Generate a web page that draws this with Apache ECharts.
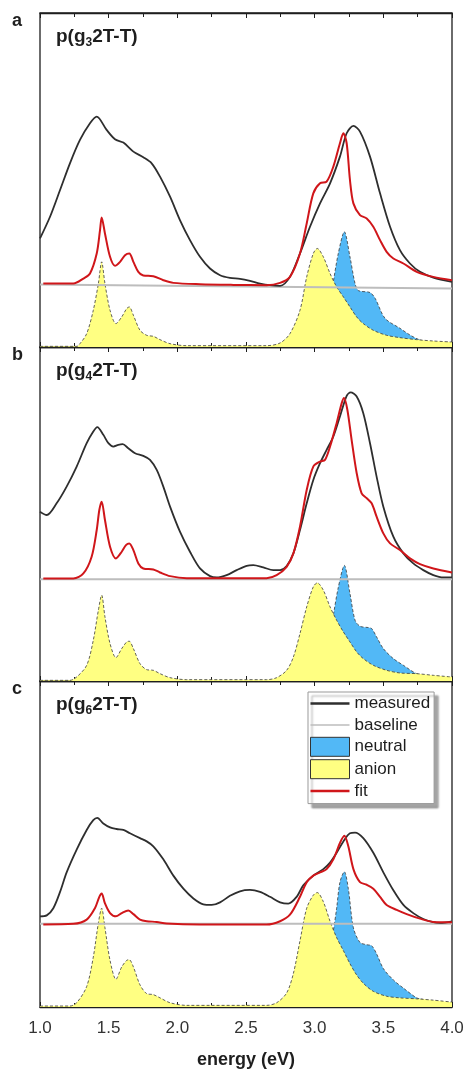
<!DOCTYPE html>
<html>
<head>
<meta charset="utf-8">
<script src="https://cdn.jsdelivr.net/npm/echarts@6/dist/echarts.min.js"></script>
<style>
  html, body { margin: 0; padding: 0; background: #fff; }
  #chart { width: 467px; height: 1070px; }
</style>
</head>
<body>
<div id="chart"></div>
<script>
// Offset absorption spectra of three polymers: measured spectrum and fit sit on a
// baseline, the anion / neutral components are drawn from zero underneath.
// All values are [energy (eV), intensity (arb. units, 0..100 per panel)].

const panelLetters = ['a', 'b', 'c'];
const panelTitles = ['p(g{s|3}2T-T)', 'p(g{s|4}2T-T)', 'p(g{s|6}2T-T)'];
const seriesNames = ['measured', 'baseline', 'neutral', 'anion', 'fit'];

// ---- panel a: p(g3 2T-T) ----
const measuredA = [[1.000,32.5],[1.073,39],[1.146,47],[1.218,55],[1.291,62],[1.364,67],[1.413,69],[1.485,65],[1.546,62.2],[1.607,61.2],[1.680,58.5],[1.752,56.8],[1.813,55],[1.874,51],[1.947,45],[2.019,38],[2.092,32],[2.165,27],[2.238,23.5],[2.311,21.5],[2.383,20.7],[2.456,20.4],[2.529,19.8],[2.602,19],[2.675,18.5],[2.748,18.3],[2.820,21],[2.893,28],[2.966,36],[3.039,43],[3.112,49],[3.184,57],[3.233,64],[3.282,66.2],[3.330,64.5],[3.403,57],[3.476,46],[3.549,36],[3.621,29],[3.694,25],[3.767,22.5],[3.864,20.8],[4.000,19.5]];
const fitA = [[1.024,19],[1.243,19],[1.316,20.5],[1.364,22],[1.413,28],[1.437,35],[1.449,38.8],[1.473,34],[1.510,27],[1.546,24.3],[1.583,25.5],[1.619,27.5],[1.650,28],[1.680,25.5],[1.716,22.5],[1.752,21.4],[1.825,21.2],[1.898,20],[1.971,19.2],[2.165,18.8],[2.408,18.6],[2.650,18.5],[2.748,19.2],[2.820,21],[2.893,28],[2.942,37],[2.990,46],[3.039,49],[3.087,49.5],[3.136,54],[3.184,61],[3.209,64],[3.233,61],[3.257,50],[3.282,43],[3.330,39.5],[3.379,38.5],[3.427,36],[3.476,32],[3.524,28.5],[3.573,26.5],[3.646,25],[3.743,22.5],[3.864,21],[4.000,20]];
const anionA = [[1.000,0.2],[1.267,0.2],[1.291,1.0],[1.340,4.0],[1.388,11],[1.425,19],[1.449,25.5],[1.473,19],[1.510,11],[1.553,7],[1.595,9],[1.631,11.5],[1.650,12],[1.680,9.5],[1.728,5],[1.777,3.5],[1.825,3.2],[1.874,2.2],[1.947,1],[2.068,0.4],[2.650,0.4],[2.748,1.2],[2.820,4],[2.893,11],[2.942,21],[2.990,28],[3.019,29.5],[3.063,27],[3.112,22],[3.160,18],[3.209,15],[3.257,12],[3.306,9],[3.354,7],[3.427,5],[3.524,3.5],[3.621,2.8],[3.743,2.2],[3.864,1.8],[4.000,1.5]];
const neutralA = [[3.000,0],[3.050,3],[3.100,10],[3.136,19.5],[3.172,28],[3.216,34.5],[3.257,27],[3.294,19],[3.318,16.9],[3.403,16.3],[3.440,14.6],[3.512,8.6],[3.621,5.6],[3.694,3.6],[3.755,2.3],[3.864,1.0],[4.000,0.4]];
const baselineA = [[1.0,18.7],[4.0,17.5]];

// ---- panel b: p(g4 2T-T) ----
const measuredB = [[1.000,50.7],[1.049,49.7],[1.121,53.2],[1.194,58.2],[1.267,64.2],[1.340,71.2],[1.388,74.7],[1.417,76],[1.461,73.7],[1.498,71.2],[1.534,70.2],[1.570,70.7],[1.602,70.9],[1.643,69.7],[1.692,68.2],[1.752,67.4],[1.801,66.2],[1.850,63.2],[1.898,58.2],[1.947,52.2],[2.019,44.7],[2.092,38.7],[2.165,33.7],[2.238,31.4],[2.286,31.0],[2.359,31.7],[2.432,33.2],[2.505,34.5],[2.553,34.7],[2.626,34.0],[2.699,33.2],[2.748,33.2],[2.796,34.4],[2.845,38.2],[2.893,45.2],[2.942,53.2],[2.990,60.2],[3.039,65.2],[3.087,69.2],[3.136,73.2],[3.184,79.2],[3.233,85.4],[3.262,86.4],[3.306,85.2],[3.354,80.2],[3.403,71.2],[3.451,61.2],[3.500,52.2],[3.573,43.2],[3.646,38.2],[3.718,35.2],[3.791,33.2],[3.864,31.7],[3.937,31.0],[4.000,31.0]];
const fitB = [[1.024,30.7],[1.243,30.7],[1.316,32.2],[1.376,37.2],[1.413,45.2],[1.432,51.2],[1.449,53.7],[1.473,48.2],[1.510,40.2],[1.553,36.7],[1.595,38.7],[1.626,40.7],[1.650,41.2],[1.680,39.2],[1.716,35.2],[1.752,33.7],[1.825,33.4],[1.874,32.5],[1.947,31.4],[2.068,30.8],[2.650,30.8],[2.723,31.7],[2.796,34.2],[2.845,38.2],[2.893,46.2],[2.942,57.2],[2.990,64.2],[3.039,65.7],[3.075,66.2],[3.112,70.2],[3.160,77.2],[3.197,83.2],[3.214,84.7],[3.238,81.2],[3.269,72.2],[3.306,62.2],[3.342,56.2],[3.379,54.7],[3.415,53.2],[3.451,49.2],[3.500,44.2],[3.549,41.2],[3.621,39.2],[3.694,36.7],[3.767,35.0],[3.864,33.7],[4.000,32.5]];
const anionB = [[1.000,0.2],[1.218,0.2],[1.267,1.2],[1.340,4.7],[1.388,12.2],[1.425,21.2],[1.449,25.7],[1.473,19.2],[1.510,11.2],[1.553,7.0],[1.595,9.7],[1.631,11.7],[1.650,11.9],[1.680,9.7],[1.728,5.2],[1.777,3.4],[1.825,3.2],[1.874,2.2],[1.947,1.0],[2.068,0.4],[2.650,0.4],[2.723,1.0],[2.796,3.2],[2.845,7.2],[2.893,14.2],[2.942,22.2],[2.990,28.2],[3.019,29.4],[3.063,27.2],[3.112,22.2],[3.160,18.2],[3.209,14.7],[3.257,11.7],[3.306,8.7],[3.354,6.7],[3.427,4.7],[3.524,3.2],[3.621,2.4],[3.743,2.2],[3.864,1.7],[4.000,1.2]];
const neutralB = [[3.000,0],[3.050,3],[3.100,11],[3.136,19.7],[3.172,28],[3.216,34.6],[3.257,26.2],[3.294,18.2],[3.330,16.4],[3.391,16.0],[3.415,15.7],[3.451,13.2],[3.500,9.7],[3.573,6.7],[3.646,4.7],[3.743,2.2],[3.864,1.0],[4.000,0.4]];
const baselineB = [[1.0,30.5],[4.0,30.5]];

// ---- panel c: p(g6 2T-T) ----
const measuredC = [[1.000,27.8],[1.049,28.1],[1.097,30.3],[1.146,35.3],[1.194,41.3],[1.267,48.3],[1.340,54.3],[1.388,57.3],[1.417,58.0],[1.461,56.3],[1.510,55.1],[1.558,54.6],[1.607,54.3],[1.655,53.3],[1.728,51.8],[1.777,50.8],[1.825,49.3],[1.898,45.3],[1.971,40.3],[2.044,36.3],[2.117,33.3],[2.189,31.5],[2.250,31.3],[2.311,32.1],[2.383,34.1],[2.456,35.5],[2.529,35.9],[2.602,35.3],[2.675,33.8],[2.748,32.1],[2.808,31.7],[2.869,33.8],[2.917,37.3],[2.990,40.3],[3.063,42.3],[3.112,44.3],[3.160,47.3],[3.209,50.8],[3.257,53.3],[3.294,53.5],[3.354,51.8],[3.427,47.3],[3.500,41.3],[3.573,35.8],[3.646,31.3],[3.718,28.8],[3.791,27.0],[3.864,26.0],[3.913,25.8],[4.000,26.3]];
const fitC = [[1.024,25.3],[1.243,25.5],[1.340,26.8],[1.400,30.3],[1.432,33.8],[1.449,34.8],[1.473,31.8],[1.510,28.8],[1.553,27.8],[1.595,28.8],[1.643,29.6],[1.680,28.5],[1.728,26.8],[1.777,26.3],[1.850,26.1],[1.922,25.6],[2.165,25.3],[2.650,25.3],[2.748,26.3],[2.820,28.3],[2.893,33.8],[2.942,38.3],[2.990,40.3],[3.039,41.3],[3.087,42.3],[3.136,45.3],[3.184,50.3],[3.216,52.5],[3.245,49.3],[3.282,42.3],[3.330,38.3],[3.379,37.5],[3.427,36.3],[3.476,33.8],[3.524,31.3],[3.597,29.8],[3.670,28.5],[3.767,27.1],[3.864,26.1],[4.000,26.0]];
const anionC = [[1.000,0.3],[1.218,0.3],[1.267,1.3],[1.340,6.3],[1.388,15.3],[1.425,25.8],[1.449,30.3],[1.473,24.3],[1.510,14.3],[1.553,8.5],[1.595,12.3],[1.631,14.3],[1.650,14.5],[1.680,12.3],[1.728,6.8],[1.777,4.1],[1.825,3.8],[1.874,2.8],[1.947,1.3],[2.068,0.5],[2.650,0.5],[2.723,1.3],[2.796,4.3],[2.845,10.3],[2.893,20.3],[2.942,30.3],[2.990,34.3],[3.019,35.1],[3.063,32.3],[3.112,26.3],[3.160,21.3],[3.209,17.3],[3.257,13.3],[3.306,9.8],[3.354,7.3],[3.427,4.8],[3.524,3.3],[3.621,2.8],[3.743,2.5],[3.864,2.1],[4.000,1.5]];
const neutralC = [[3.000,0],[3.050,4],[3.100,14],[3.136,23.3],[3.160,30.3],[3.184,38.3],[3.216,41.5],[3.245,36.3],[3.282,24.3],[3.330,19.8],[3.379,19.1],[3.415,18.8],[3.451,16.3],[3.500,11.8],[3.573,8.3],[3.646,5.8],[3.743,2.8],[3.791,2.3],[3.864,1.0],[4.000,0.4]];
const baselineC = [[1.0,25.5],[4.0,25.5]];

const panels = [
  { measured: measuredA, fit: fitA, anion: anionA, neutral: neutralA, baseline: baselineA },
  { measured: measuredB, fit: fitB, anion: anionB, neutral: neutralB, baseline: baselineB },
  { measured: measuredC, fit: fitC, anion: anionC, neutral: neutralC, baseline: baselineC }
];

// ---- styling / layout ----
const FONT = '"Liberation Sans", Arial, Helvetica, sans-serif';
const INK = '#1e1e1e';
const C_MEASURED = '#2e2e2e';
const C_BASELINE = '#bdbdbd';
const C_NEUTRAL = '#52b8f6';
const C_ANION = '#ffff82';
const C_FIT = '#d0161a';
const gridTop = [13, 347, 681];
const gridHeight = [334, 334, 333];
const LEG_W = 39, LEG_H = 19;

// Legend glyph for line entries: a short horizontal bar; the zero-length
// moves at the corners fix the glyph's box to the legend item size.
function barIcon(thickness) {
  const y0 = (LEG_H - thickness) / 2, y1 = y0 + thickness;
  return 'path://M0,0L0,0M0,' + y0 + 'L' + LEG_W + ',' + y0 + 'L' + LEG_W + ',' + y1 +
    'L0,' + y1 + 'ZM' + LEG_W + ',' + LEG_H + 'L' + LEG_W + ',' + LEG_H;
}

const grids = [], xAxes = [], yAxes = [], series = [], titles = [];

function xAxis(i, position, labels) {
  return {
    gridIndex: i, type: 'value', position: position, min: 1, max: 4, interval: 0.5,
    axisLine: { show: true, onZero: false, lineStyle: { color: INK, width: 1.3 } },
    axisTick: { show: true, inside: true, length: 5, lineStyle: { color: INK, width: 1 } },
    minorTick: { show: true, splitNumber: 2, length: 4, lineStyle: { color: INK, width: 1 } },
    splitLine: { show: false },
    axisLabel: {
      show: labels, color: '#333', fontSize: 17, fontFamily: FONT, margin: 13,
      formatter: v => v.toFixed(1)
    },
    name: labels ? 'energy (eV)' : '',
    nameLocation: 'middle', nameGap: 44,
    nameTextStyle: { fontSize: 18, fontWeight: 'bold', color: INK, fontFamily: FONT }
  };
}

function areaSeries(name, data, i, fill, z) {
  return {
    name, type: 'line', xAxisIndex: i * 2, yAxisIndex: i, data, z,
    smooth: 0.3, symbol: 'none', silent: true,
    lineStyle: { color: '#3a3a3a', width: 0.8, type: [3, 2] },
    itemStyle: { color: fill },
    areaStyle: { color: fill, opacity: 1 }
  };
}

function lineSeries(name, data, i, color, width, smooth, z) {
  return {
    name, type: 'line', xAxisIndex: i * 2, yAxisIndex: i, data, z,
    smooth: smooth, symbol: 'none', silent: true,
    lineStyle: { color, width },
    itemStyle: { color }
  };
}

panels.forEach((p, i) => {
  grids.push({
    left: 40, right: 15, top: gridTop[i], height: gridHeight[i],
    show: true, borderColor: INK, borderWidth: 1.3, backgroundColor: 'transparent'
  });
  xAxes.push(xAxis(i, 'bottom', i === 2));
  xAxes.push(Object.assign(xAxis(i, 'top', false), { name: '' }));
  yAxes.push({ gridIndex: i, type: 'value', min: 0, max: 100, show: false });

  series.push(areaSeries('neutral', p.neutral, i, C_NEUTRAL, 2));
  series.push(areaSeries('anion', p.anion, i, C_ANION, 3));
  series.push(lineSeries('baseline', p.baseline, i, C_BASELINE, 2, false, 4));
  series.push(lineSeries('measured', p.measured, i, C_MEASURED, 1.8, 0.3, 5));
  series.push(lineSeries('fit', p.fit, i, C_FIT, 2, 0.3, 6));

  titles.push({
    text: panelLetters[i], left: 12, top: gridTop[i] - 1, padding: 0,
    textStyle: { fontSize: 18, fontWeight: 'bold', color: INK, fontFamily: FONT }
  });
  titles.push({
    text: panelTitles[i], left: 56, top: gridTop[i] + 12, padding: 0,
    textStyle: {
      fontSize: 19, fontWeight: 'bold', color: INK, fontFamily: FONT,
      rich: { s: { fontSize: 12, fontWeight: 'bold', color: INK, fontFamily: FONT, verticalAlign: 'bottom', padding: [12, 0, 0, 0] } }
    }
  });
});

const legendItems = seriesNames.map(n => {
  if (n === 'neutral' || n === 'anion') {
    return { name: n, icon: 'rect', itemStyle: { color: n === 'neutral' ? C_NEUTRAL : C_ANION, borderColor: '#333', borderWidth: 1 } };
  }
  const col = n === 'measured' ? C_MEASURED : n === 'fit' ? C_FIT : C_BASELINE;
  return { name: n, icon: barIcon(n === 'baseline' ? 1.5 : 2.5), itemStyle: { color: col, borderWidth: 0 } };
});

const chart = echarts.init(document.getElementById('chart'), null, { renderer: 'canvas' });
chart.setOption({
  animation: false,
  backgroundColor: '#fff',
  textStyle: { fontFamily: FONT },
  title: titles,
  grid: grids,
  xAxis: xAxes,
  yAxis: yAxes,
  legend: {
    data: legendItems, orient: 'vertical', left: 308, top: 692,
    itemWidth: LEG_W, itemHeight: LEG_H, itemGap: 2.4, padding: [2, 4, 3, 2],
    selectedMode: false, symbolKeepAspect: false,
    backgroundColor: '#fff', borderColor: '#999', borderWidth: 1,
    shadowColor: 'rgba(0,0,0,0.35)', shadowBlur: 2, shadowOffsetX: 4, shadowOffsetY: 4,
    textStyle: { fontSize: 17, lineHeight: 19, color: INK, fontFamily: FONT }
  },
  series: series
});
</script>
</body>
</html>
